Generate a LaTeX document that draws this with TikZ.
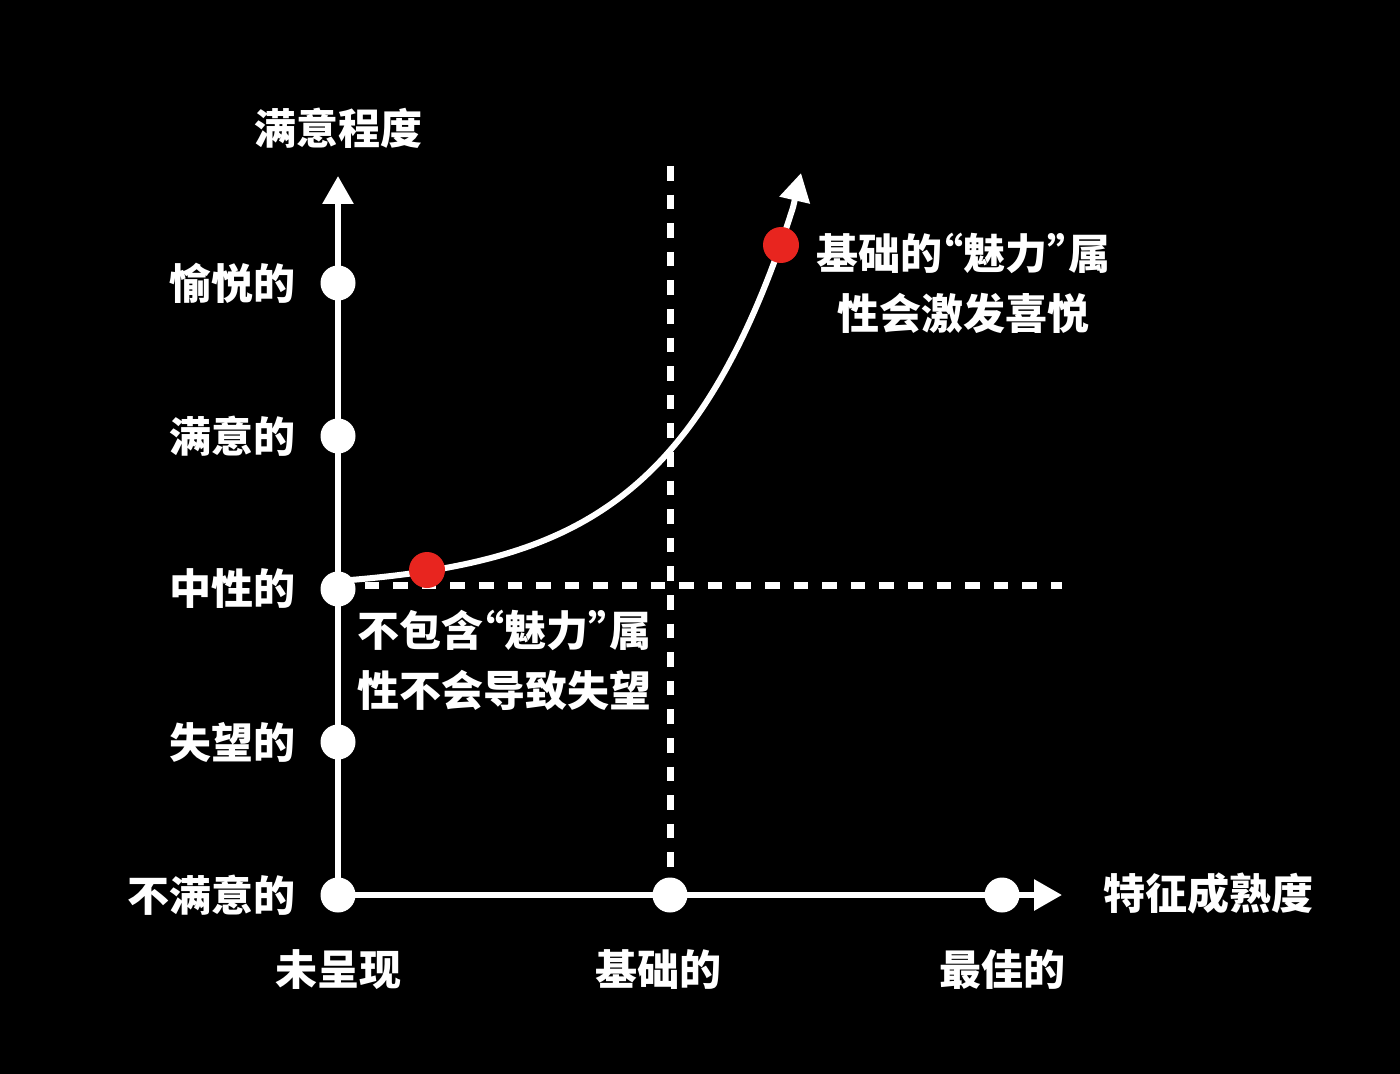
\documentclass[tikz,border=0pt]{standalone}
\usepackage{fontspec}
\setmainfont{Noto Sans CJK SC}
\usetikzlibrary{arrows.meta}
\definecolor{reddot}{HTML}{E8251F}
\newcommand\myoq{\hspace{-0.5em}“}
\newcommand\mycq{”\hspace{-0.5em}}
\begin{document}
\begin{tikzpicture}[x=0.5pt,y=-0.5pt,
  axis/.style={white, line width=3pt},
  tipped/.style={-{Triangle[length=14pt,width=15pt]}},
  wdot/.style={circle, fill=white, minimum size=17.5pt, inner sep=0pt},
  rdot/.style={circle, fill=reddot, minimum size=18pt, inner sep=0pt},
  lbl/.style={text=white, font=\bfseries\fontsize{21pt}{30pt}\selectfont, inner sep=0pt},
  dsh/.style={white, line width=3.5pt, dash pattern=on 7.3pt off 7pt}]
\fill[black] (0,0) rectangle (1400,1074);
\useasboundingbox (0,0) rectangle (1400,1074);
% coordinates
\coordinate (o) at (338,895);
\coordinate (ytop) at (338,176);
\coordinate (xend) at (1062,895);
\coordinate (vtop) at (670,166);
\coordinate (vbot) at (670,878);
\coordinate (hl) at (336,585);
\coordinate (hr) at (1062,585);
\coordinate (ctip) at (801,173);
% dashed guides
\draw[dsh] (vtop) -- (vbot);
\draw[dsh] (hl) -- (hr);
% axes
\draw[axis,tipped] (o) -- (ytop);
\draw[axis,tipped] (o) -- (xend);
% curve
\draw[axis,tipped] plot[domain=338:793,samples=120] (\x,{581-9.2*(exp(0.0082*(\x-338))-1)}) -- (ctip);
% axis dots
\node[wdot] (y0) at (338,895) {};
\node[wdot] (y1) at (338,742) {};
\node[wdot] (y2) at (338,589) {};
\node[wdot] (y3) at (338,436) {};
\node[wdot] (y4) at (338,283) {};
\node[wdot] (xb) at (670,895) {};
\node[wdot] (xc) at (1002,895) {};
% red dots
\node[rdot] (r1) at (427,570) {};
\node[rdot] (r2) at (781,245) {};
% labels
\node[lbl] (ttl) at (338,128) {满意程度};
\node[lbl,anchor=east] (l4) at (296,283) {愉悦的};
\node[lbl,anchor=east] (l3) at (296,436) {满意的};
\node[lbl,anchor=east] (l2) at (296,589) {中性的};
\node[lbl,anchor=east] (l1) at (296,742) {失望的};
\node[lbl,anchor=east] (l0) at (296,895) {不满意的};
\node[lbl,anchor=west] (xt) at (1103,893) {特征成熟度};
\node[lbl] (b0) at (338,970) {未呈现};
\node[lbl] (b1) at (658,970) {基础的};
\node[lbl] (b2) at (1002,970) {最佳的};
\node[lbl,align=center] (n1) at (963,283) {基础的\myoq 魅力\mycq 属\\性会激发喜悦};
\node[lbl,align=left,anchor=west] (n2) at (357,660) {不包含\myoq 魅力\mycq 属\\性不会导致失望};
\end{tikzpicture}
\end{document}
